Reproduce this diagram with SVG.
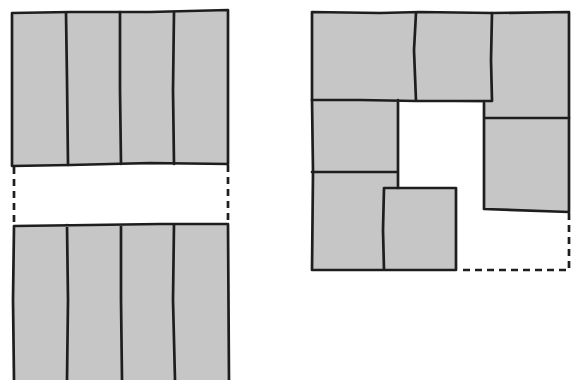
<svg xmlns="http://www.w3.org/2000/svg" width="571" height="380" viewBox="0 0 571 380">
<style>
.f{fill:#c6c6c6;stroke:none}
.l{fill:none;stroke:#1e1e1e;stroke-width:2.7;stroke-linecap:round;stroke-linejoin:round}
.d{fill:none;stroke:#1e1e1e;stroke-width:2.7;stroke-dasharray:7 5}
</style>
<rect width="571" height="380" fill="#fff"/>
<g id="left-plan">
<polygon class="f" points="12,13 228,10 228,164 12,166"/>
<polygon class="f" points="14,226 228,224 229,380 13,380"/>
<path class="l" d="M12,13 L70,12 L150,12 L228,10 L228,164 L150,163 L70,165 L12,166 Z"/>
<path class="l" d="M66,13 L67,80 L68,165 M120,12 L120,90 L121,164 M174,12 L173,90 L174,164"/>
<path class="l" d="M14,226 L90,225 L160,224 L228,224 L229,380 M14,226 L13,300 L14,380 M67,225 L68,300 L67,380 M121,225 L121,300 L122,380 M174,224 L173,300 L175,380"/>
<path class="d" d="M14,167 L14,226 M228,165 L228,224"/>
</g>
<g id="right-plan">
<polygon class="f" points="312,12 569,12 569,118 484,118 484,103 398,100 398,188 456,188 456,270 312,270"/>
<polygon class="f" points="484,118 569,118 569,212 484,209"/>
<path class="l" d="M312,12 L380,13 L420,12 L492,13 L569,12 L569,118 M312,12 L312,100 L313,172 L312,270 L456,270 L456,188 L384,188 L383,230 L384,270"/>
<path class="l" d="M416,13 L414,50 L416,101 M492,13 L491,60 L492,101 M312,100 L360,100 L416,101 L492,101 M398,100 L398,172 M312,172 L398,172 M398,172 L398,188"/>
<path class="l" d="M484,103 L484,209 L569,212 L569,118 L484,118"/>
<path class="d" d="M463,270 L569,270 L569,212"/>
</g>
</svg>
